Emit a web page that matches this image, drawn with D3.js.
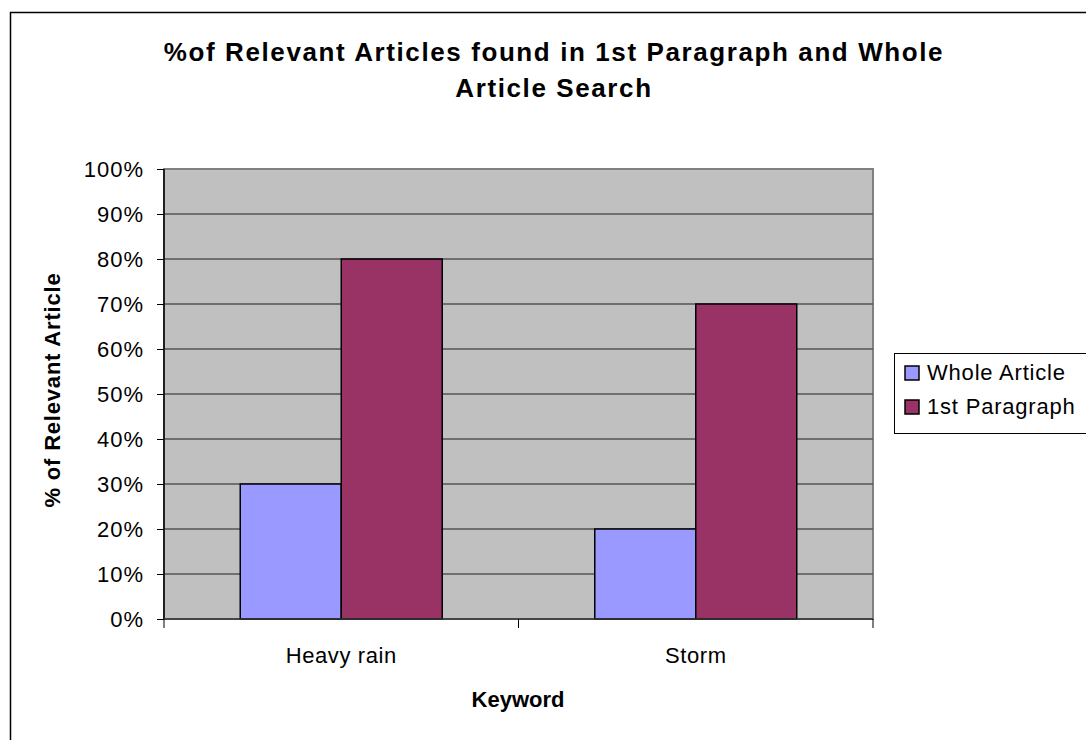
<!DOCTYPE html>
<html>
<head>
<meta charset="utf-8">
<script src="https://cdn.jsdelivr.net/npm/d3@7"></script>
<style>
body{margin:0;background:#fff;}
text{font-family:"Liberation Sans",Arial,sans-serif;}
</style>
</head>
<body>
<div id="chart"></div>
<script>
////////////////////////////////////////
// data

var categories = ['Heavy rain','Storm'];
var seriesNames = ['Whole Article','1st Paragraph'];
var wholeArticle = [0.30,0.20];
var firstParagraph = [0.80,0.70];
var yTicks = [0,0.1,0.2,0.3,0.4,0.5,0.6,0.7,0.8,0.9,1.0];
var seriesColors = ['#9999ff','#993366'];

////////////////////////////////////////

var w = 1086, h = 740;
var plot = {left:164, top:169, right:873, bottom:619};
var fs = 22;

var svg = d3.select('#chart')
	.append('svg')
	.attr('width',w)
	.attr('height',h);

// outer frame
svg.append('rect')
	.attr('x',10.5).attr('y',12.5)
	.attr('width',w).attr('height',h)
	.attr('fill','#fff')
	.attr('stroke','#000')
	.attr('stroke-width',1.5);

var x0 = d3.scaleBand()
	.domain(categories)
	.range([plot.left,plot.right])
	.padding(0);

var x1 = d3.scaleBand()
	.domain(seriesNames)
	.range([0,x0.bandwidth()])
	.paddingInner(0)
	.paddingOuter(0.755);

var y = d3.scaleLinear()
	.domain([0,1])
	.range([plot.bottom,plot.top]);

// plot area
svg.append('rect')
	.attr('x',plot.left).attr('y',plot.top)
	.attr('width',plot.right-plot.left)
	.attr('height',plot.bottom-plot.top)
	.attr('fill','#c0c0c0')
	.attr('stroke','#808080')
	.attr('stroke-width',2);

// gridlines
svg.selectAll('line.grid')
	.data(yTicks.slice(1,-1))
	.enter()
		.append('line')
		.attr('class','grid')
		.attr('x1',plot.left).attr('x2',plot.right)
		.attr('y1',function(d){ return y(d); })
		.attr('y2',function(d){ return y(d); })
		.attr('stroke','#555')
		.attr('stroke-width',1.3);

// bars
var rows = categories.map(function(c,i){
	return [
		{cat:c,series:seriesNames[0],value:wholeArticle[i],color:seriesColors[0]},
		{cat:c,series:seriesNames[1],value:firstParagraph[i],color:seriesColors[1]}
	];
});

svg.selectAll('g.cat')
	.data(rows)
	.enter()
		.append('g')
		.attr('class','cat')
		.attr('transform',function(d,i){ return 'translate('+x0(categories[i])+',0)'; })
		.selectAll('rect')
		.data(function(d){ return d; })
		.enter()
			.append('rect')
			.attr('x',function(d){ return x1(d.series); })
			.attr('y',function(d){ return y(d.value); })
			.attr('width',x1.bandwidth())
			.attr('height',function(d){ return y(0)-y(d.value); })
			.attr('fill',function(d){ return d.color; })
			.attr('stroke','#000')
			.attr('stroke-width',1.5);

// y axis
var yAxis = d3.axisLeft(y)
	.tickValues(yTicks)
	.tickFormat(d3.format('.0%'))
	.tickSize(7)
	.tickPadding(13);

var yg = svg.append('g')
	.attr('transform','translate('+plot.left+',0)')
	.call(yAxis);
yg.select('.domain').attr('stroke','#000').attr('stroke-width',1.5).attr('d','M0,'+plot.top+'V'+plot.bottom);
yg.selectAll('.tick line').attr('stroke','#000');
yg.selectAll('.tick text')
	.attr('font-size',fs)
	.attr('letter-spacing',1)
	.attr('fill','#000');

// x axis
var xg = svg.append('g')
	.attr('transform','translate(0,'+plot.bottom+')');
xg.append('line')
	.attr('x1',plot.left).attr('x2',plot.right)
	.attr('stroke','#333').attr('stroke-width',1.5);
xg.selectAll('line.xtick')
	.data(categories.concat(['end']))
	.enter()
		.append('line')
		.attr('class','xtick')
		.attr('x1',function(d,i){ return plot.left+i*x0.step(); })
		.attr('x2',function(d,i){ return plot.left+i*x0.step(); })
		.attr('y1',0).attr('y2',9)
		.attr('stroke','#000');
xg.selectAll('text.xlab')
	.data(categories)
	.enter()
		.append('text')
		.attr('class','xlab')
		.attr('x',function(d){ return x0(d)+x0.bandwidth()/2; })
		.attr('y',44)
		.attr('text-anchor','middle')
		.attr('font-size',fs)
		.attr('letter-spacing',0.6)
		.text(function(d){ return d; });

// titles
var title = svg.append('text')
	.attr('text-anchor','middle')
	.attr('font-size',26)
	.attr('font-weight','bold')
	.attr('letter-spacing',1.6);
title.append('tspan').attr('x',554).attr('y',61).text('%of Relevant Articles found in 1st Paragraph and Whole');
title.append('tspan').attr('x',554).attr('y',97).text('Article Search');

svg.append('text')
	.attr('x',518).attr('y',707)
	.attr('text-anchor','middle')
	.attr('font-size',fs)
	.attr('font-weight','bold')
	.text('Keyword');

svg.append('text')
	.attr('transform','translate(60,'+((plot.top+plot.bottom)/2-4)+') rotate(-90)')
	.attr('text-anchor','middle')
	.attr('font-size',fs)
	.attr('font-weight','bold')
	.attr('letter-spacing',0.8)
	.text('% of Relevant Article');

// legend
var legend = svg.append('g').attr('transform','translate(894,353)');
legend.append('rect')
	.attr('x',0.5).attr('y',0.5)
	.attr('width',200).attr('height',80)
	.attr('fill','#fff')
	.attr('stroke','#000');
var li = legend.selectAll('g.item')
	.data(seriesNames)
	.enter()
		.append('g')
		.attr('class','item')
		.attr('transform',function(d,i){ return 'translate(11,'+(13+i*34)+')'; });
li.append('rect')
	.attr('width',14).attr('height',14)
	.attr('fill',function(d,i){ return seriesColors[i]; })
	.attr('stroke','#000')
	.attr('stroke-width',1.5);
li.append('text')
	.attr('x',22).attr('y',14)
	.attr('font-size',fs)
	.attr('letter-spacing',0.8)
	.text(function(d){ return d; });
</script>
</body>
</html>
